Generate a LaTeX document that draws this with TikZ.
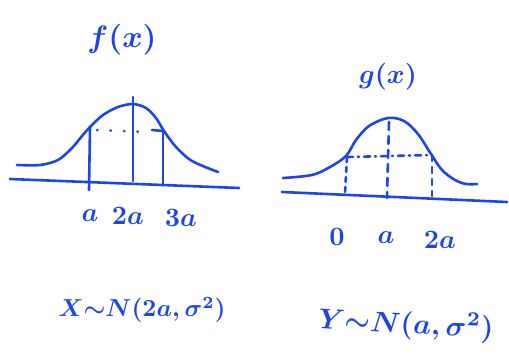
\documentclass[tikz,border=0pt]{standalone}
\usepackage{graphicx}
\usepackage{tikz}
\definecolor{pen}{HTML}{1E45E8}
\newcommand{\hwtext}[2]{\scalebox{#1}{\fontsize{10}{12}\selectfont\boldmath$#2$}}
\tikzset{
  ink/.style={draw=pen, line width=2.6pt, line cap=round, line join=round},
  inkdot/.style={ink, dash pattern=on 3pt off 6pt},
  inkdash/.style={ink, dash pattern=on 6pt off 5pt on 1pt off 5pt},
  lbl/.style={text=pen, inner sep=0pt},
}
\begin{document}
\begin{tikzpicture}[x=1pt,y=-1pt]
\useasboundingbox (0,0) rectangle (509,360);
% ---------- left graph ----------
\coordinate (LA0) at (10,179);
\coordinate (LA1) at (239,188);
\draw[ink] (LA0) -- (LA1);
\draw[ink] plot[smooth, tension=0.5] coordinates {(17,165) (40,165) (58,160) (72,148) (82,136) (91,126) (103,115) (118,107) (133,104) (146,108) (156,118) (164,131) (176,147) (192,161) (218,172)};
\coordinate (La) at (90,127);
\coordinate (Lab) at (89,190);
\coordinate (Lb) at (133,97);
\coordinate (Lbb) at (133,181);
\coordinate (Lc) at (163,131);
\coordinate (Lcb) at (163,185);
\draw[ink] (La) -- (Lab);
\draw[ink] (Lb) -- (Lbb);
\draw[ink] (Lc) -- (Lcb);
\coordinate (Ld0) at (97,130);
\coordinate (Ld1) at (148,132);
\coordinate (Ld2) at (152,130);
\draw[inkdot, dash pattern=on 0.5pt off 13pt] (Ld0) -- (Ld1);
\draw[ink] (Ld2) -- (Lc);
\node[lbl] (ft) at (122,40) {\hwtext{3.1}{f(x)}};
\node[lbl] (la) at (90,216) {\hwtext{2.65}{a}};
\node[lbl] (l2a) at (128,216) {\hwtext{2.65}{2a}};
\node[lbl] (l3a) at (181,218) {\hwtext{2.65}{3a}};
% ---------- right graph ----------
\coordinate (RA0) at (282,192);
\coordinate (RA1) at (507,202);
\draw[ink] (RA0) -- (RA1);
\draw[ink] plot[smooth, tension=0.55] coordinates {(283,178) (312,175) (330,167) (346,156) (356,140) (369,126) (388,118) (404,121) (418,134) (431,154) (442,170) (455,180) (466,184) (477,184)};
\coordinate (Ra) at (347,157);
\coordinate (Rab) at (345,193);
\coordinate (Rb) at (389,122);
\coordinate (Rbb) at (387,198);
\coordinate (Rc) at (432,155);
\coordinate (Rcb) at (432,196);
\draw[inkdot, dash pattern=on 5pt off 5pt] (Ra) -- (Rab);
\draw[inkdot, dash pattern=on 8pt off 6pt] (Rb) -- (Rbb);
\draw[inkdot, dash pattern=on 6pt off 6pt] (Rc) -- (Rcb);
\draw[inkdash] (Ra) -- (Rc);
\node[lbl] (gt) at (388,77) {\hwtext{2.7}{g(x)}};
\node[lbl] (r0) at (337,237) {\hwtext{2.65}{0}};
\node[lbl] (ra) at (386,238) {\hwtext{2.65}{a}};
\node[lbl] (r2a) at (440,240) {\hwtext{2.65}{2a}};
% ---------- distributions ----------
\node[lbl] (xd) at (142,310) {\hwtext{2.45}{X{\sim}N(2a,\sigma^2)}};
\node[lbl, rotate=-3] (yd) at (406,325) {\hwtext{2.85}{Y{\sim}N(a,\sigma^2)}};
\end{tikzpicture}
\end{document}
